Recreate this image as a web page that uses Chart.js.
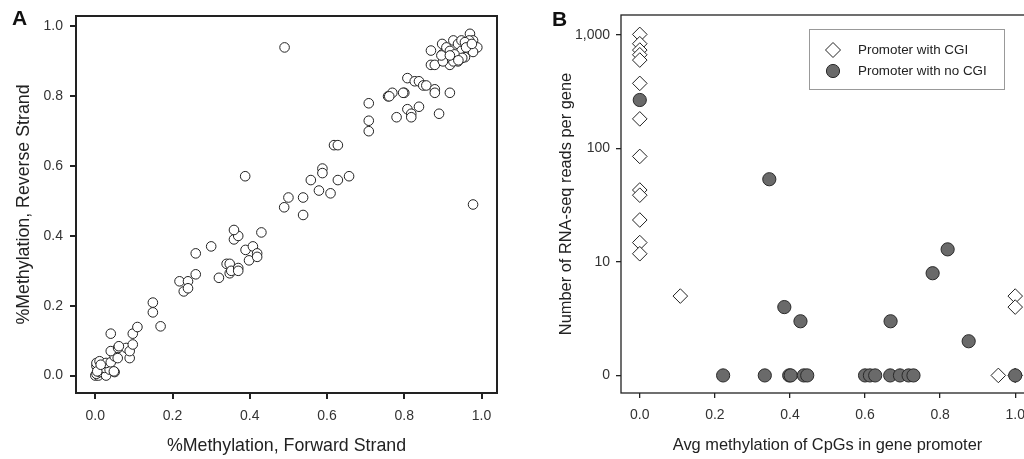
<!DOCTYPE html>
<html><head><meta charset="utf-8">
<script src="https://cdn.jsdelivr.net/npm/chart.js@4.4.0/dist/chart.umd.min.js"></script>
<style>
html,body{margin:0;padding:0;width:1024px;height:459px;overflow:hidden;background:#fff;}
#wa{position:absolute;left:0;top:0;width:520px;height:459px;}
#wb{position:absolute;left:530px;top:0;width:530px;height:459px;}
canvas{display:block;}
</style></head><body>
<div id="wa"><canvas id="ca" width="520" height="459"></canvas></div>
<div id="wb"><canvas id="cb" width="530" height="459"></canvas></div>
<script>
const FONT = '"Liberation Sans", Arial, Helvetica, sans-serif';

// ---------- Panel A data ----------
const forwardStrand = [
  0.000,0.008,0.003,0.011,0.020,0.028,0.011,0.024,0.003,0.037,0.003,0.011,0.028,0.040,0.050,0.005,0.014,0.048,
  0.050,0.058,0.040,0.059,0.080,0.089,0.089,0.097,0.097,0.109,0.040,0.061,
  0.149,0.149,0.169,
  0.218,0.240,0.229,0.240,0.260,0.260,0.300,0.320,0.340,0.348,0.348,0.352,0.370,0.370,0.359,0.370,0.359,0.389,0.408,0.398,0.419,0.419,0.430,
  0.388,0.490,0.978,
  0.489,0.500,0.538,0.538,0.558,0.588,0.588,0.579,0.609,0.628,0.657,0.618,0.628,
  0.708,0.708,0.708,0.758,0.769,0.800,0.780,0.808,0.818,0.818,0.838,0.890,0.918,0.808,0.827,0.838,0.849,0.857,0.879,0.879,0.761,0.797,
  0.869,0.869,0.879,0.898,0.898,0.909,0.918,0.927,0.939,0.948,0.939,0.957,0.970,0.978,0.968,0.989,0.978,0.927,0.909,0.948,0.957,0.918,0.960,0.930,0.950,0.900,0.975,0.896,0.918,0.940
];
const reverseStrand = [
  0.000,0.000,0.005,0.010,0.008,0.000,0.018,0.022,0.027,0.017,0.036,0.041,0.036,0.038,0.010,0.012,0.031,0.012,
  0.055,0.050,0.070,0.079,0.079,0.050,0.070,0.089,0.120,0.139,0.120,0.084,
  0.209,0.181,0.141,
  0.270,0.270,0.241,0.250,0.350,0.290,0.370,0.280,0.320,0.320,0.293,0.300,0.308,0.300,0.390,0.400,0.417,0.360,0.370,0.330,0.350,0.340,0.410,
  0.571,0.940,0.490,
  0.482,0.510,0.510,0.460,0.560,0.593,0.580,0.530,0.522,0.560,0.571,0.660,0.660,
  0.780,0.730,0.700,0.800,0.810,0.810,0.740,0.763,0.750,0.740,0.770,0.750,0.810,0.852,0.843,0.843,0.831,0.831,0.820,0.810,0.800,0.810,
  0.931,0.890,0.890,0.950,0.920,0.940,0.890,0.960,0.950,0.930,0.900,0.912,0.979,0.960,0.960,0.940,0.927,0.900,0.912,0.960,0.955,0.930,0.940,0.920,0.910,0.900,0.950,0.917,0.917,0.903
];
const xTicksA = [0.0, 0.2, 0.4, 0.6, 0.8, 1.0];
const yTicksA = [0.0, 0.2, 0.4, 0.6, 0.8, 1.0];

// ---------- Panel B data ----------
const cgiMethylation = [0,0,0,0,0,0,0,0,0,0,0,0,0,0.108,1.0,1.0,0.955,1.0];
const cgiReads       = [1010,836,735,668,600,374,182,85,43,38.7,23.4,14.8,11.8,5,5,4,0,0];
const noCgiMethylation = [0,0.345,0.385,0.428,0.668,0.780,0.820,0.876,0.222,0.333,0.398,0.402,0.437,0.446,0.600,0.613,0.627,0.667,0.693,0.716,0.729,1.0];
const noCgiReads       = [267,53.5,4,3,3,7.95,12.9,2,0,0,0,0,0,0,0,0,0,0,0,0,0,0];
const xTicksB = [0.0, 0.2, 0.4, 0.6, 0.8, 1.0];
const yTickValuesB = [1, 10, 100, 1000];
const yTickLabelsB = ['0', '10', '100', '1,000'];
const legendLabelsB = ['Promoter with CGI', 'Promoter with no CGI'];

const toPts = (xs, ys, f) => xs.map((x, i) => ({x: x, y: f ? f(ys[i]) : ys[i]}));
const zeroToAxis = v => (v === 0 ? 1 : v); // "0" reads are drawn at the axis position labelled 0

function frameAndLetter(letter, lx, ly, lw) {
  return {
    id: 'frame' + letter,
    afterDraw(chart) {
      const ctx = chart.ctx, a = chart.chartArea;
      ctx.save();
      ctx.strokeStyle = '#222';
      ctx.lineWidth = lw;
      ctx.strokeRect(a.left, a.top, a.right - a.left, a.bottom - a.top);
      ctx.fillStyle = '#111';
      ctx.font = 'bold 21px ' + FONT;
      ctx.textBaseline = 'alphabetic';
      ctx.fillText(letter, lx, ly);
      ctx.restore();
    }
  };
}

new Chart(document.getElementById('ca'), {
  type: 'scatter',
  data: { datasets: [{
    label: 'A',
    data: toPts(forwardStrand, reverseStrand),
    pointStyle: 'circle', pointRadius: 4.8,
    pointBackgroundColor: '#fff', pointBorderColor: '#222', pointBorderWidth: 1
  }]},
  options: {
    responsive: false, animation: false, devicePixelRatio: 1,
    layout: { padding: { top: 16, right: 23, left: 0, bottom: 0 } },
    plugins: { legend: { display: false }, tooltip: { enabled: false } },
    scales: {
      x: {
        type: 'linear', min: -0.05, max: 1.04,
        afterBuildTicks: s => { s.ticks = xTicksA.map(v => ({ value: v })); },
        afterFit: s => { s.height = 66; },
        ticks: { callback: v => Number(v).toFixed(1), font: { family: FONT, size: 14 }, color: '#333', padding: 9, maxRotation: 0 },
        grid: { drawOnChartArea: false, drawTicks: true, tickLength: 6, color: '#222', lineWidth: 2 },
        border: { display: false },
        title: { display: true, text: '%Methylation, Forward Strand', font: { family: FONT, size: 17.8 }, color: '#222', padding: { top: 0, bottom: 2.5 } }
      },
      y: {
        type: 'linear', min: -0.05, max: 1.03,
        afterBuildTicks: s => { s.ticks = yTicksA.map(v => ({ value: v })); },
        afterFit: s => { s.width = 76; },
        ticks: { callback: v => Number(v).toFixed(1), font: { family: FONT, size: 14 }, color: '#333', padding: 7 },
        grid: { drawOnChartArea: false, drawTicks: true, tickLength: 6, color: '#222', lineWidth: 2 },
        border: { display: false },
        title: { display: true, text: '%Methylation, Reverse Strand', font: { family: FONT, size: 17.8 }, color: '#222', padding: { top: 13, bottom: 0 } }
      }
    }
  },
  plugins: [frameAndLetter('A', 12, 25, 2)]
});

const legendPluginB = {
  id: 'legendB',
  afterDraw(chart) {
    const ctx = chart.ctx;
    ctx.save();
    ctx.strokeStyle = '#999';
    ctx.lineWidth = 1;
    ctx.strokeRect(279.5, 29.5, 195, 60);
    const ds = chart.data.datasets;
    const rows = [50, 71];
    ds.forEach((d, i) => {
      ctx.fillStyle = d.pointBackgroundColor;
      ctx.strokeStyle = d.pointBorderColor;
      ctx.lineWidth = d.pointBorderWidth;
      Chart.helpers.drawPoint(ctx, { pointStyle: d.pointStyle, radius: d.legendRadius, borderWidth: d.pointBorderWidth, rotation: 0 }, 303, rows[i]);
      ctx.fillStyle = '#222';
      ctx.font = '13.4px ' + FONT;
      ctx.textBaseline = 'middle';
      ctx.fillText(legendLabelsB[i], 328, rows[i]);
    });
    ctx.restore();
  }
};

new Chart(document.getElementById('cb'), {
  type: 'scatter',
  data: { datasets: [
    {
      label: legendLabelsB[0], order: 1,
      data: toPts(cgiMethylation, cgiReads, zeroToAxis),
      pointStyle: 'rectRot', pointRadius: 7.3, legendRadius: 7.5,
      pointBackgroundColor: '#fff', pointBorderColor: '#222', pointBorderWidth: 1
    },
    {
      label: legendLabelsB[1], order: 0,
      data: toPts(noCgiMethylation, noCgiReads, zeroToAxis),
      pointStyle: 'circle', pointRadius: 6.6, legendRadius: 6.6,
      pointBackgroundColor: '#6a6a6a', pointBorderColor: '#2a2a2a', pointBorderWidth: 1
    }
  ]},
  options: {
    responsive: false, animation: false, devicePixelRatio: 1,
    layout: { padding: { top: 15, right: 26, left: 0, bottom: 0 } },
    plugins: { legend: { display: false }, tooltip: { enabled: false } },
    scales: {
      x: {
        type: 'linear', min: -0.05, max: 1.05,
        afterBuildTicks: s => { s.ticks = xTicksB.map(v => ({ value: v })); },
        afterFit: s => { s.height = 66; },
        ticks: { callback: v => Number(v).toFixed(1), font: { family: FONT, size: 14 }, color: '#333', padding: 9, maxRotation: 0 },
        grid: { drawOnChartArea: false, drawTicks: true, tickLength: 5, color: '#222', lineWidth: 1.3 },
        border: { display: false },
        title: { display: true, text: 'Avg methylation of CpGs in gene promoter', font: { family: FONT, size: 16.4 }, color: '#222', padding: { top: 0, bottom: 3.5 } }
      },
      y: {
        type: 'logarithmic', min: 0.71, max: 1497,
        afterBuildTicks: s => { s.ticks = yTickValuesB.map(v => ({ value: v })); },
        afterFit: s => { s.width = 91; },
        ticks: { callback: (v, i) => yTickLabelsB[i], font: { family: FONT, size: 14 }, color: '#333', padding: 6 },
        grid: { drawOnChartArea: false, drawTicks: true, tickLength: 5, color: '#222', lineWidth: 1.3 },
        border: { display: false },
        title: { display: true, text: 'Number of RNA-seq reads per gene', font: { family: FONT, size: 16.4 }, color: '#222', padding: { top: 27, bottom: 0 } }
      }
    }
  },
  plugins: [frameAndLetter('B', 22, 26, 1.3), legendPluginB]
});
</script>
</body></html>
